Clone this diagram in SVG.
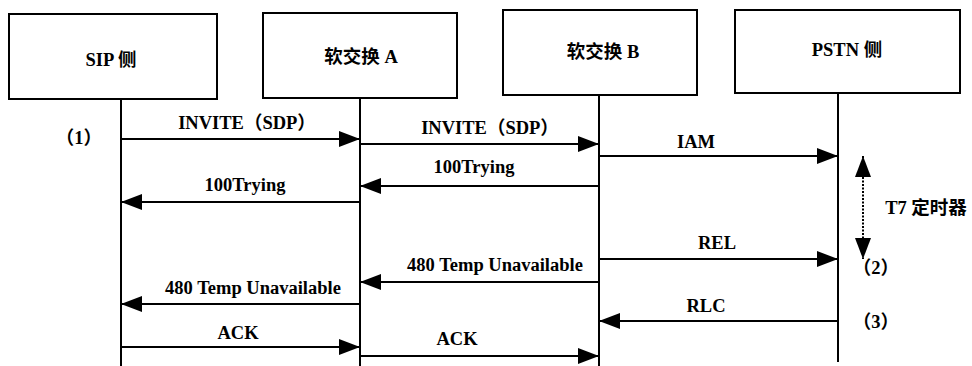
<svg xmlns="http://www.w3.org/2000/svg" width="972" height="366" viewBox="0 0 972 366">
<defs>
<marker id="ah" markerUnits="userSpaceOnUse" markerWidth="22" markerHeight="18" viewBox="0 0 22 18" refX="21" refY="9" orient="auto">
<path d="M0,1 L21,9 L0,17 Z" fill="#000" stroke="none"/>
</marker>
<marker id="ahs" markerUnits="userSpaceOnUse" markerWidth="22" markerHeight="18" viewBox="0 0 22 18" refX="1" refY="9" orient="auto">
<path d="M22,1 L1,9 L22,17 Z" fill="#000" stroke="none"/>
</marker>
</defs>
<rect width="972" height="366" fill="#fff"/>
<g id="sip">
<rect x="9" y="14" width="208" height="85" fill="#fff" stroke="#000" stroke-width="2"/>
<text x="111" y="66" font-family="'Liberation Serif', 'Noto Sans CJK SC', serif" font-size="18.5" font-weight="bold" text-anchor="middle">SIP 侧</text>
<line x1="121" y1="99" x2="121" y2="366" stroke="#000" stroke-width="2"/>
</g>
<g id="swA">
<rect x="263" y="13" width="194" height="85" fill="#fff" stroke="#000" stroke-width="2"/>
<text x="361" y="63" font-family="'Liberation Serif', 'Noto Sans CJK SC', serif" font-size="18.5" font-weight="bold" text-anchor="middle">软交换 A</text>
<line x1="360" y1="98" x2="360" y2="366" stroke="#000" stroke-width="2"/>
</g>
<g id="swB">
<rect x="503" y="10" width="194" height="85" fill="#fff" stroke="#000" stroke-width="2"/>
<text x="603" y="58" font-family="'Liberation Serif', 'Noto Sans CJK SC', serif" font-size="18.5" font-weight="bold" text-anchor="middle">软交换 B</text>
<line x1="599" y1="95" x2="599" y2="366" stroke="#000" stroke-width="2"/>
</g>
<g id="pstn">
<rect x="735" y="10" width="225" height="83" fill="#fff" stroke="#000" stroke-width="2"/>
<text x="847" y="56" font-family="'Liberation Serif', 'Noto Sans CJK SC', serif" font-size="18.5" font-weight="bold" text-anchor="middle">PSTN 侧</text>
<line x1="838" y1="93" x2="838" y2="362" stroke="#000" stroke-width="2"/>
</g>
<g id="connectors" stroke="#000" stroke-width="2" fill="none">
<line x1="121" y1="139" x2="360" y2="139" marker-end="url(#ah)"/>
<line x1="360" y1="144" x2="599" y2="144" marker-end="url(#ah)"/>
<line x1="599" y1="156" x2="838" y2="156" marker-end="url(#ah)"/>
<line x1="599" y1="186" x2="360" y2="186" marker-end="url(#ah)"/>
<line x1="360" y1="202" x2="121" y2="202" marker-end="url(#ah)"/>
<line x1="599" y1="259" x2="838" y2="259" marker-end="url(#ah)"/>
<line x1="599" y1="282" x2="360" y2="282" marker-end="url(#ah)"/>
<line x1="360" y1="304" x2="121" y2="304" marker-end="url(#ah)"/>
<line x1="838" y1="321" x2="599" y2="321" marker-end="url(#ah)"/>
<line x1="121" y1="347" x2="360" y2="347" marker-end="url(#ah)"/>
<line x1="360" y1="356" x2="599" y2="356" marker-end="url(#ah)"/>
<line x1="863" y1="156" x2="863" y2="259" stroke-dasharray="2 1.5" marker-start="url(#ahs)" marker-end="url(#ah)"/>
</g>
<g id="labels" fill="#000">
<text x="247" y="129" font-family="'Liberation Serif', 'Noto Sans CJK SC', serif" font-size="18.5" font-weight="bold" text-anchor="middle">INVITE（SDP）</text>
<text x="490" y="134" font-family="'Liberation Serif', 'Noto Sans CJK SC', serif" font-size="18.5" font-weight="bold" text-anchor="middle">INVITE（SDP）</text>
<text x="696" y="148" font-family="'Liberation Serif', 'Noto Sans CJK SC', serif" font-size="18.5" font-weight="bold" text-anchor="middle">IAM</text>
<text x="474" y="173" font-family="'Liberation Serif', 'Noto Sans CJK SC', serif" font-size="18.5" font-weight="bold" text-anchor="middle">100Trying</text>
<text x="245" y="191" font-family="'Liberation Serif', 'Noto Sans CJK SC', serif" font-size="18.5" font-weight="bold" text-anchor="middle">100Trying</text>
<text x="717" y="249" font-family="'Liberation Serif', 'Noto Sans CJK SC', serif" font-size="18.5" font-weight="bold" text-anchor="middle">REL</text>
<text x="495" y="271" font-family="'Liberation Serif', 'Noto Sans CJK SC', serif" font-size="18.5" font-weight="bold" text-anchor="middle">480 Temp Unavailable</text>
<text x="253" y="294" font-family="'Liberation Serif', 'Noto Sans CJK SC', serif" font-size="18.5" font-weight="bold" text-anchor="middle">480 Temp Unavailable</text>
<text x="706" y="312" font-family="'Liberation Serif', 'Noto Sans CJK SC', serif" font-size="18.5" font-weight="bold" text-anchor="middle">RLC</text>
<text x="238" y="339" font-family="'Liberation Serif', 'Noto Sans CJK SC', serif" font-size="18.5" font-weight="bold" text-anchor="middle">ACK</text>
<text x="457" y="345" font-family="'Liberation Serif', 'Noto Sans CJK SC', serif" font-size="18.5" font-weight="bold" text-anchor="middle">ACK</text>
<text x="926" y="214" font-family="'Liberation Serif', 'Noto Sans CJK SC', serif" font-size="18.5" font-weight="bold" text-anchor="middle">T7 定时器</text>
<text x="79" y="144" font-family="'Liberation Serif', 'Noto Sans CJK SC', serif" font-size="18.5" font-weight="bold" text-anchor="middle">（1）</text>
<text x="876" y="274" font-family="'Liberation Serif', 'Noto Sans CJK SC', serif" font-size="18.5" font-weight="bold" text-anchor="middle">（2）</text>
<text x="876" y="328" font-family="'Liberation Serif', 'Noto Sans CJK SC', serif" font-size="18.5" font-weight="bold" text-anchor="middle">（3）</text>
</g>
</svg>
